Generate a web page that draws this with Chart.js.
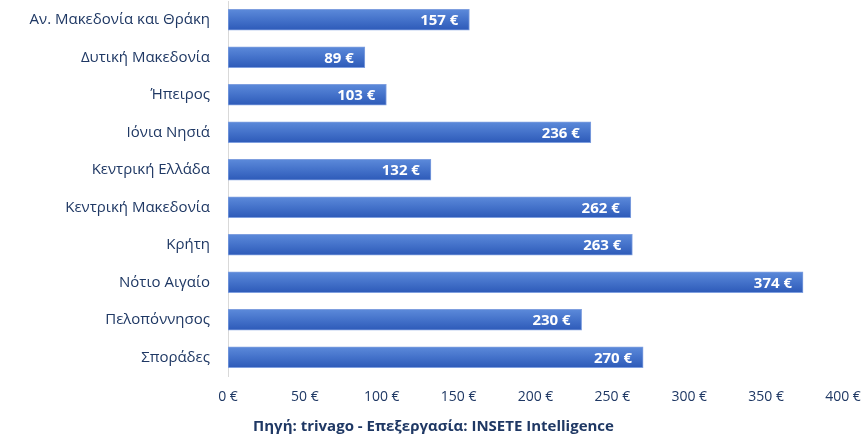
<!DOCTYPE html>
<html>
<head>
<meta charset="utf-8">
<script src="https://cdn.jsdelivr.net/npm/chart.js@4.4.1/dist/chart.umd.min.js"></script>
<style>
html,body{margin:0;padding:0;background:#fff;}
#wrap{width:867px;height:436px;position:relative;}
</style>
</head>
<body>
<div id="wrap"><canvas id="c"></canvas></div>
<script>
const categories = ["Αν. Μακεδονία και Θράκη","Δυτική Μακεδονία","Ήπειρος","Ιόνια Νησιά","Κεντρική Ελλάδα","Κεντρική Μακεδονία","Κρήτη","Νότιο Αιγαίο","Πελοπόννησος","Σποράδες"];
const prices = [157, 89, 103, 236, 132, 262, 263, 374, 230, 270];
const tickValues = [0, 50, 100, 150, 200, 250, 300, 350, 400];
const sourceText = "Πηγή: trivago - Επεξεργασία: INSETE Intelligence";

const navy = "#1F3864";
const FONT = "'Open Sans', 'Noto Sans', sans-serif";

const valueLabels = {
  id: 'valueLabels',
  afterDatasetsDraw(chart) {
    const ctx = chart.ctx;
    const meta = chart.getDatasetMeta(0);
    ctx.save();
    ctx.fillStyle = '#FFFFFF';
    ctx.font = "bold 15px " + FONT;
    ctx.textAlign = 'right';
    ctx.textBaseline = 'middle';
    meta.data.forEach((bar, i) => {
      ctx.fillText(prices[i] + ' €', bar.x - 11, bar.y + 1);
    });
    ctx.restore();
  }
};

function barGradient(context) {
  const chart = context.chart;
  const y = chart.scales && chart.scales.y;
  if (!y || context.type !== 'data') return '#3F6BC8';
  const cy = y.getPixelForValue(context.dataIndex);
  if (!Number.isFinite(cy)) return '#3F6BC8';
  const h = 21;
  const g = chart.ctx.createLinearGradient(0, cy - h / 2, 0, cy + h / 2);
  g.addColorStop(0, '#5C8ADA');
  g.addColorStop(0.5, '#4472CA');
  g.addColorStop(1, '#2D5AB8');
  return g;
}

new Chart(document.getElementById('c'), {
  type: 'bar',
  data: {
    labels: categories,
    datasets: [{
      data: prices,
      backgroundColor: barGradient,
      borderColor: '#7F9FDF',
      borderWidth: 1,
      borderSkipped: false,
      barThickness: 21
    }]
  },
  options: {
    indexAxis: 'y',
    responsive: true,
    maintainAspectRatio: false,
    animation: false,
    layout: { padding: { top: 1, right: 0, left: 0, bottom: 0 } },
    plugins: {
      legend: { display: false },
      tooltip: { enabled: false },
      title: {
        display: true,
        position: 'bottom',
        text: sourceText,
        color: navy,
        font: { family: FONT, size: 15, weight: 'bold', lineHeight: 1.2 },
        padding: { top: 9, bottom: 0 }
      }
    },
    scales: {
      x: {
        min: 0,
        max: 400,
        afterBuildTicks(axis) { axis.ticks = tickValues.map(v => ({ value: v })); },
        afterFit(axis) { axis.height = 33; axis.paddingLeft = 0; axis.paddingRight = 24; },
        grid: { display: false, drawTicks: false },
        border: { display: false },
        ticks: {
          color: navy,
          font: { family: FONT, size: 14 },
          padding: 13,
          maxRotation: 0,
          callback: v => v + ' €'
        }
      },
      y: {
        afterFit(axis) { axis.width = 228; axis.paddingTop = 0; axis.paddingBottom = 0; },
        grid: { display: false, drawTicks: false },
        border: { display: true, color: '#D9D9D9', width: 1 },
        ticks: {
          color: navy,
          font: { family: FONT, size: 15 },
          padding: 18
        }
      }
    }
  },
  plugins: [valueLabels]
});
</script>
</body>
</html>
